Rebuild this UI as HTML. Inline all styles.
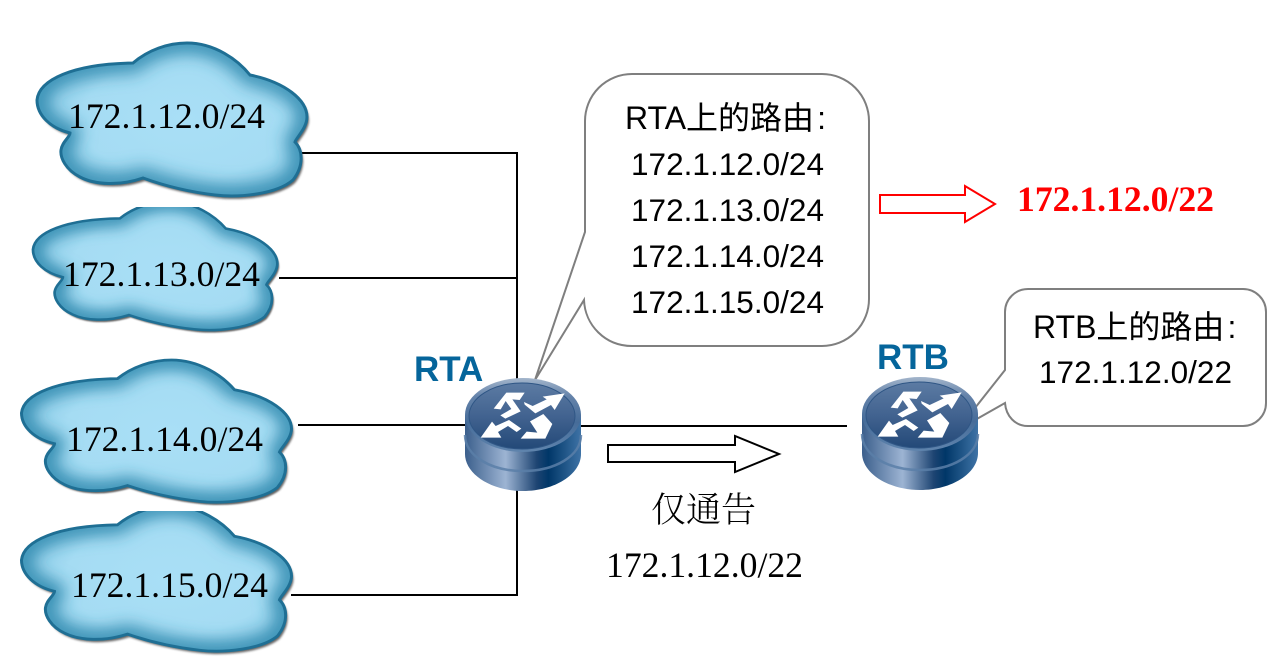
<!DOCTYPE html>
<html>
<head>
<meta charset="utf-8">
<style>
html,body{margin:0;padding:0;background:#fff;width:1282px;height:665px;overflow:hidden}
svg{display:block}
.a{font-family:"Liberation Sans","Noto Sans CJK SC",sans-serif;font-size:31.5px;fill:#000}
.h{font-family:"Liberation Sans","Noto Sans CJK SC",sans-serif;font-size:32px;fill:#000}
.t{font-family:"Liberation Serif","Noto Serif CJK SC",serif;font-size:35.5px;fill:#000}
.l{font-family:"Liberation Sans",sans-serif;font-size:35px;font-weight:bold;fill:#05659b}
</style>
</head>
<body>
<svg width="1282" height="665" viewBox="0 0 1282 665" xmlns="http://www.w3.org/2000/svg">
<defs>
<path id="cp" d="M37,100 C39,80 72,64 133,63 C148,50 168,43 187,43 C215,43 238,60 250,75 C285,82 307,100 307,117 C307,128 296,138 295,142 C303,150 304,166 293,180 C277,194 240,198 215,195 C190,192 165,186 143,178 C120,186 95,185 80,177 C66,170 60,158 61,150 C62,142 70,137 70,133 C50,128 37,115 37,100Z"/>
<clipPath id="cc"><use href="#cp"/></clipPath>
<filter id="b1" x="-20%" y="-20%" width="140%" height="140%"><feGaussianBlur stdDeviation="9"/></filter>
<filter id="b2" x="-10%" y="-10%" width="120%" height="120%"><feGaussianBlur stdDeviation="1"/></filter>
<radialGradient id="cf" cx=".55" cy=".5" r=".55">
  <stop offset="0" stop-color="#a9dff6"/>
  <stop offset=".7" stop-color="#a5dcf3"/>
  <stop offset="1" stop-color="#8ccbe6"/>
</radialGradient>
<g id="cloud">
  <use href="#cp" transform="translate(2,3)" fill="#333" opacity=".75" filter="url(#b2)"/>
  <use href="#cp" fill="url(#cf)"/>
  <g clip-path="url(#cc)"><use href="#cp" fill="none" stroke="#2a86ac" stroke-width="18" filter="url(#b1)"/></g>
  <use href="#cp" fill="none" stroke="#1f6f94" stroke-width="3"/>
</g>
<clipPath id="c2"><rect x="0" y="207" width="320" height="140"/></clipPath>
<clipPath id="c4"><rect x="0" y="511" width="320" height="150"/></clipPath>

<linearGradient id="side" x1="0" x2="1" y1="0" y2="0">
  <stop offset="0" stop-color="#3b5f8c"/>
  <stop offset=".35" stop-color="#9db4d3"/>
  <stop offset=".62" stop-color="#1d4472"/>
  <stop offset=".72" stop-color="#003768"/>
  <stop offset="1" stop-color="#3f73a6"/>
</linearGradient>
<linearGradient id="topg" x1="0" x2="0" y1="0" y2="1">
  <stop offset="0" stop-color="#a3b5cb"/>
  <stop offset=".25" stop-color="#6583aa"/>
  <stop offset=".6" stop-color="#466c99"/>
  <stop offset="1" stop-color="#5f84ad"/>
</linearGradient>
<linearGradient id="inner" x1="0" x2="0" y1="0" y2="1">
  <stop offset="0" stop-color="#5c7ba3"/>
  <stop offset=".5" stop-color="#426390"/>
  <stop offset="1" stop-color="#234978"/>
</linearGradient>
<g id="router">
  <path d="M-58,0 V39 C-58,59 -32,76 0,76 C32,76 58,59 58,39 V0Z" fill="url(#side)"/>
  <path d="M-58,20 C-58,41 -32,56 0,56 C32,56 58,41 58,20" fill="none" stroke="#5b7fa8" stroke-width="2.5" opacity=".85"/>
  <ellipse cx="0" cy="0" rx="58" ry="37" fill="url(#topg)"/>
  <ellipse cx="-1" cy="1" rx="53" ry="33" fill="url(#inner)" stroke="#2f5685" stroke-width="1"/>
  <g transform="scale(.3333) translate(-369,-225)" fill="#fff">
    <polygon points="281,206 319,158 374,158 359,180 337,178 362,214 316,236 301,226 334,207 317,183 302,208"/>
    <polygon points="372,186 398,198 440,178 428,170 494,160 464,210 453,195 406,220 374,194"/>
    <polygon points="242,293 276,245 287,258 327,240 364,266 350,276 324,258 294,276 304,293"/>
    <polygon points="430,222 457,252 436,296 362,296 380,275 412,278 390,244"/>
  </g>
</g>
</defs>

<!-- connectors -->
<g stroke="#000" stroke-width="2" fill="none">
  <path d="M517,153 V596"/>
  <path d="M302,153 H518"/>
  <path d="M279,278 H518"/>
  <path d="M298,425 H523"/>
  <path d="M523,426 H847"/>
  <path d="M291,595 H518"/>
</g>

<!-- clouds -->
<use href="#cloud"/>
<g clip-path="url(#c2)"><use href="#cloud" transform="translate(-0.5,165.5) scale(.905,.84)"/></g>
<use href="#cloud" transform="translate(-15.5,320) scale(1,.93)"/>
<g clip-path="url(#c4)"><use href="#cloud" transform="translate(-15.5,465) scale(1,.95)"/></g>

<text class="t" x="68" y="128" textLength="197" lengthAdjust="spacingAndGlyphs">172.1.12.0/24</text>
<text class="t" x="63" y="286" textLength="197" lengthAdjust="spacingAndGlyphs">172.1.13.0/24</text>
<text class="t" x="66" y="451" textLength="197" lengthAdjust="spacingAndGlyphs">172.1.14.0/24</text>
<text class="t" x="71" y="597" textLength="197" lengthAdjust="spacingAndGlyphs">172.1.15.0/24</text>

<!-- callout RTA -->
<path d="M632,74 H822 A47,47 0 0 1 869,121 V299 A47,47 0 0 1 822,346 H632 C605,346 585,325 584,300 L535,380 L585,232 V121 A47,47 0 0 1 632,74Z" fill="#fff" stroke="#7f7f7f" stroke-width="2"/>
<text class="h" x="625" y="129">RTA上的路由<tspan dx="3">:</tspan></text>
<text class="a" x="631" y="175" textLength="193">172.1.12.0/24</text>
<text class="a" x="631" y="221" textLength="193">172.1.13.0/24</text>
<text class="a" x="631" y="267" textLength="193">172.1.14.0/24</text>
<text class="a" x="631" y="313" textLength="193">172.1.15.0/24</text>

<!-- callout RTB -->
<path d="M1028,289 H1243 A23,23 0 0 1 1266,312 V403 A23,23 0 0 1 1243,426 H1028 C1015,426 1006,416 1005,403 L975,420 L975,408 L1005,370 V312 A23,23 0 0 1 1028,289Z" fill="#fff" stroke="#7f7f7f" stroke-width="2"/>
<text class="h" x="1033" y="338">RTB上的路由<tspan dx="3">:</tspan></text>
<text class="a" x="1039" y="383" textLength="193">172.1.12.0/22</text>

<!-- routers -->
<use href="#router" transform="translate(523,415)"/>
<use href="#router" transform="translate(920,414)"/>
<text class="l" x="414" y="381">RTA</text>
<text class="l" x="877" y="369">RTB</text>

<!-- arrows -->
<path d="M608,445 H735 V436 L779,454 L735,472 V462 H608Z" fill="#fff" stroke="#000" stroke-width="2"/>
<path d="M880,195 H965 V186 L995,204 L965,222 V213 H880Z" fill="#fff" stroke="#f00" stroke-width="2"/>

<text class="t" x="651" y="522" style="font-family:'Noto Serif CJK SC',serif;font-size:35px;font-weight:300">仅通告</text>
<text class="t" x="606" y="577" textLength="197" lengthAdjust="spacingAndGlyphs">172.1.12.0/22</text>
<text class="t" x="1017" y="211" textLength="197" lengthAdjust="spacingAndGlyphs" style="font-weight:bold;fill:#f00">172.1.12.0/22</text>
</svg>
</body>
</html>
